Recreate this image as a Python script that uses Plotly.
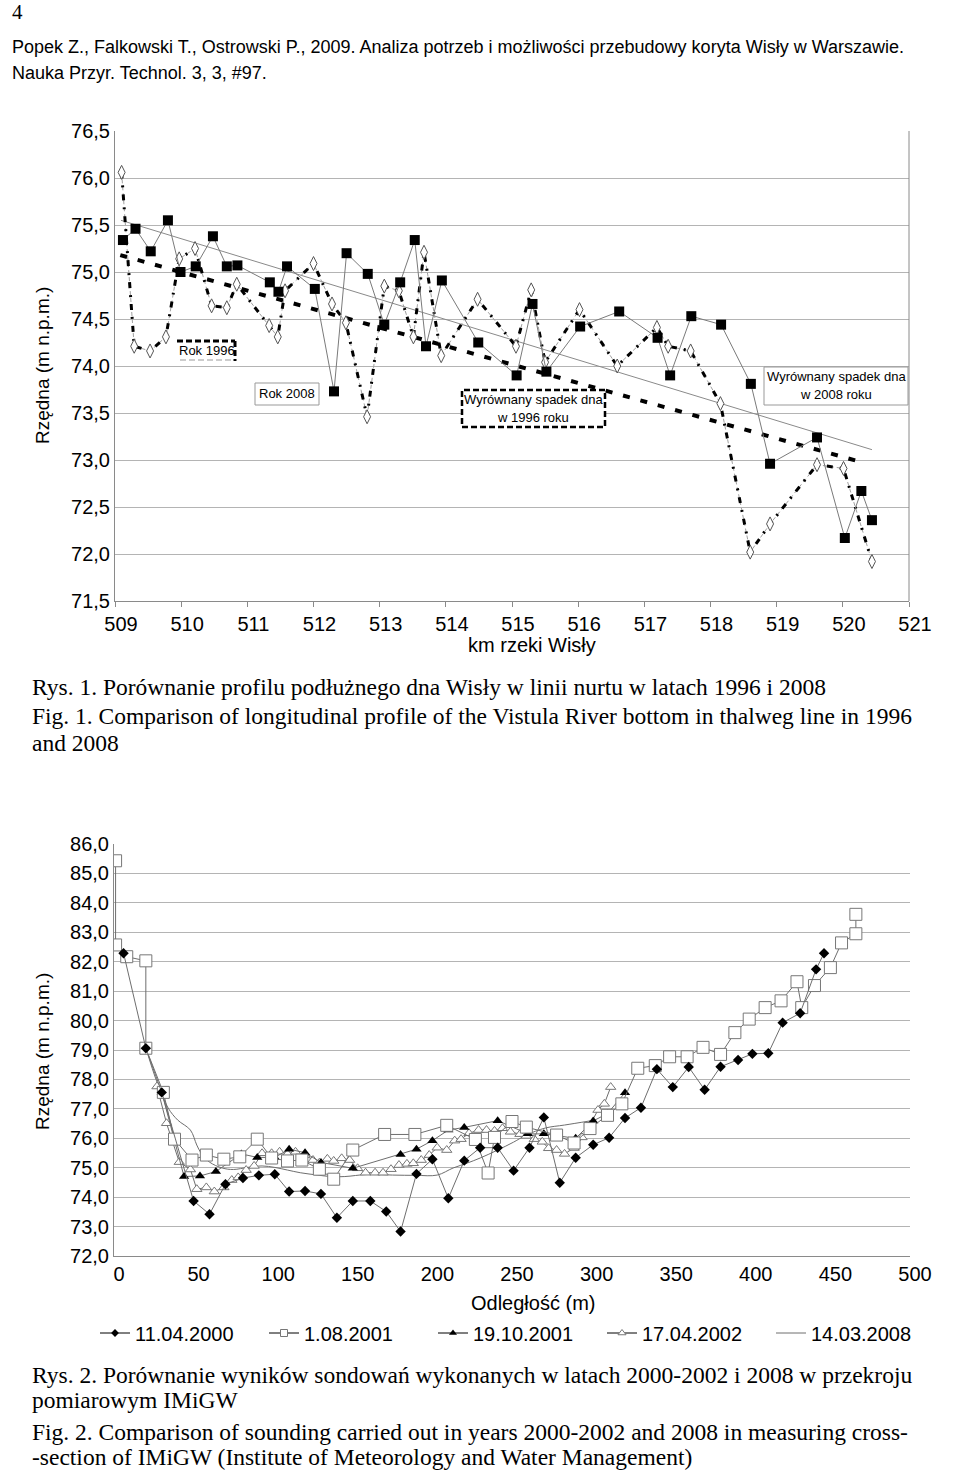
import plotly.graph_objects as go

W, H = 960, 1471
def px(x): return x / W
def py(y): return 1 - y / H

SANS = "Liberation Sans, Arial, sans-serif"
SERIF = "Liberation Serif, Times New Roman, serif"

# ---------------- Top chart data (km of Vistula, bottom elevation) ----------------
km_2008 = [509.12, 509.31, 509.54, 509.80, 509.99, 510.22, 510.48, 510.69, 510.85, 511.34,
           511.47, 511.60, 512.02, 512.31, 512.50, 512.82, 513.07, 513.31, 513.53, 513.70,
           513.94, 514.49, 515.07, 515.31, 515.52, 516.03, 516.62, 517.20, 517.39, 517.71,
           518.16, 518.61, 518.90, 519.61, 520.03, 520.28, 520.44]
z_2008 = [75.34, 75.46, 75.22, 75.55, 75.00, 75.06, 75.38, 75.06, 75.07, 74.89,
          74.79, 75.06, 74.82, 73.73, 75.20, 74.98, 74.44, 74.89, 75.34, 74.21,
          74.91, 74.25, 73.90, 74.66, 73.94, 74.42, 74.58, 74.30, 73.90, 74.53,
          74.44, 73.81, 72.96, 73.24, 72.17, 72.67, 72.36]

km_1996 = [509.10, 509.29, 509.53, 509.77, 509.97, 510.21, 510.46, 510.69, 510.84, 511.33,
           511.46, 511.57, 512.00, 512.28, 512.49, 512.81, 513.07, 513.29, 513.51, 513.67,
           513.93, 514.48, 515.06, 515.29, 515.50, 516.02, 516.59, 517.19, 517.36, 517.70,
           518.15, 518.60, 518.90, 519.61, 520.01, 520.44]
z_1996 = [76.06, 74.21, 74.16, 74.31, 75.14, 75.25, 74.64, 74.62, 74.87, 74.43,
          74.31, 74.80, 75.09, 74.66, 74.46, 73.46, 74.85, 74.80, 74.31, 75.21,
          74.11, 74.71, 74.21, 74.81, 74.04, 74.60, 74.00, 74.41, 74.21, 74.16,
          73.60, 72.02, 72.32, 72.95, 72.91, 71.92]

trend_2008_km = [509.09, 520.44]
trend_2008_z = [75.55, 73.11]
trend_1996_km = [509.08, 520.32]
trend_1996_z = [75.18, 72.97]

top_x_ticks = list(range(509, 522))

# ---------------- Bottom chart data (distance, elevation) ----------------
d_110400 = [6, 20, 30, 50, 60, 70, 81, 91, 101, 110, 120, 130, 140, 150, 161, 171, 180, 190, 200, 210,
            220, 230, 241, 251, 261, 270, 280, 290, 301, 311, 321, 331, 341, 351, 361, 371, 381, 392, 401, 411,
            420, 431, 441, 446]
z_110400 = [82.29, 79.06, 77.56, 73.87, 73.42, 74.44, 74.65, 74.74, 74.78, 74.19,
            74.21, 74.11, 73.30, 73.87, 73.87, 73.51, 72.83, 74.79, 75.29, 73.96,
            75.24, 75.68, 75.68, 74.90, 75.68, 76.71, 74.49, 75.34, 75.78, 76.02,
            76.69, 77.04, 78.35, 77.74, 78.42, 77.65, 78.43, 78.66, 78.87, 78.89,
            79.93, 80.25, 81.74, 82.29]

d_010801 = [1, 1, 8, 20, 20, 31, 38, 49, 58, 69, 79, 90, 99, 109, 118, 129, 138, 150, 170, 189,
            209, 227, 235, 239, 250, 259, 278, 289, 299, 310, 319, 329, 340, 349, 360, 370, 381, 390, 399, 409,
            419, 429, 432, 440, 450, 457, 466, 466]
z_010801 = [85.43, 82.57, 82.17, 82.03, 79.06, 77.56, 75.97, 75.26, 75.43, 75.29,
            75.37, 75.97, 75.33, 75.23, 75.26, 74.95, 74.61, 75.60, 76.13, 76.13,
            76.44, 75.96, 74.82, 76.03, 76.57, 76.38, 76.11, 75.84, 76.33, 76.78,
            77.17, 78.38, 78.47, 78.77, 78.77, 79.09, 78.85, 79.59, 80.05, 80.44,
            80.67, 81.32, 80.44, 81.19, 81.80, 82.64, 82.95, 83.61]

d_191001 = [30, 44, 54, 64, 80, 90, 101, 110, 120, 130, 150, 180, 190, 200, 210, 220, 241, 260, 270, 290,
            301, 310, 321]
z_191001 = [77.56, 74.70, 74.72, 74.87, 75.47, 75.35, 75.35, 75.63, 75.51, 75.18,
            74.98, 75.45, 75.63, 75.92, 76.28, 76.37, 76.60, 76.15, 76.15, 76.00,
            76.59, 76.84, 77.55]

d_170402 = [27, 33, 41, 48, 52, 58, 63, 69, 74, 78, 83, 88, 93, 99, 104, 109, 114, 120, 125, 129,
            134, 138, 143, 148, 153, 158, 164, 169, 174, 179, 184, 188, 193, 198, 203, 209, 214, 218, 223, 229,
            234, 239, 244, 249, 255, 259, 264, 269, 273, 278, 283, 289, 294, 299, 304, 308, 312]
z_170402 = [77.76, 76.51, 75.19, 74.94, 74.27, 74.33, 74.19, 74.33, 74.58, 74.67,
            74.92, 75.06, 75.49, 75.49, 75.54, 75.47, 75.54, 75.43, 75.26, 75.17,
            75.30, 75.23, 75.32, 75.26, 74.98, 74.83, 74.83, 74.83, 74.95, 75.09,
            75.13, 75.15, 75.26, 75.43, 75.68, 75.60, 75.92, 75.97, 76.17, 76.28,
            76.28, 76.25, 76.34, 76.22, 76.14, 76.08, 75.97, 75.88, 75.66, 75.60,
            75.47, 75.67, 76.03, 76.45, 76.96, 77.17, 77.74]

d_140308 = [20, 27, 34, 40, 48, 52, 55, 60, 68, 75, 84, 93, 101, 109, 117, 128, 136, 145, 159, 175,
            190, 203, 213, 222, 230, 241, 251, 259, 271, 283, 299]
z_140308 = [79.07, 77.91, 77.03, 76.62, 76.28, 75.77, 75.47, 75.19, 74.99, 74.94,
            75.01, 75.06, 75.01, 74.92, 74.83, 74.75, 74.70, 74.70, 74.77, 74.75,
            74.74, 74.75, 74.99, 75.16, 75.33, 75.60, 75.87, 76.11, 76.35, 76.45,
            76.59]

legend_names = ["11.04.2000", "1.08.2001", "19.10.2001", "17.04.2002", "14.03.2008"]

LINE_GRAY = "#6e6e6e"
GRID = "#b4b4b4"
AX = "#8a8a8a"

fig = go.Figure()

# ---- top chart traces ----
fig.add_trace(go.Scatter(x=trend_2008_km, y=trend_2008_z, mode="lines",
                         line=dict(color="#8a8a8a", width=1), xaxis="x", yaxis="y", showlegend=False))
fig.add_trace(go.Scatter(x=trend_1996_km, y=trend_1996_z, mode="lines",
                         line=dict(color="black", width=4, dash="7px,11px"),
                         xaxis="x", yaxis="y", showlegend=False))
fig.add_trace(go.Scatter(x=km_1996, y=z_1996, mode="lines",
                         line=dict(color="#a0a0a0", width=1, dash="4px,3px"),
                         xaxis="x", yaxis="y", showlegend=False))
fig.add_trace(go.Scatter(x=km_1996, y=z_1996, mode="lines",
                         line=dict(color="black", width=3, dash="6px,7px,2px,7px"),
                         xaxis="x", yaxis="y", showlegend=False))
fig.add_trace(go.Scatter(x=km_1996, y=z_1996, mode="markers",
                         marker=dict(symbol="diamond-tall", size=10, color="white",
                                     line=dict(color="#555555", width=1)),
                         xaxis="x", yaxis="y", showlegend=False))
fig.add_trace(go.Scatter(x=km_2008, y=z_2008, mode="lines+markers",
                         line=dict(color="#7a7a7a", width=1),
                         marker=dict(symbol="square", size=10, color="black"),
                         xaxis="x", yaxis="y", showlegend=False))

# ---- bottom chart traces ----
fig.add_trace(go.Scatter(x=d_140308, y=z_140308, mode="lines", line_shape="spline",
                         line=dict(color=LINE_GRAY, width=1), xaxis="x2", yaxis="y2", showlegend=False))
fig.add_trace(go.Scatter(x=d_170402, y=z_170402, mode="lines+markers",
                         line=dict(color=LINE_GRAY, width=1),
                         marker=dict(symbol="triangle-up", size=9, color="white",
                                     line=dict(color="#777777", width=1)),
                         xaxis="x2", yaxis="y2", showlegend=False))
fig.add_trace(go.Scatter(x=d_191001, y=z_191001, mode="lines+markers",
                         line=dict(color=LINE_GRAY, width=1),
                         marker=dict(symbol="triangle-up", size=9, color="black"),
                         xaxis="x2", yaxis="y2", showlegend=False))
fig.add_trace(go.Scatter(x=d_010801, y=z_010801, mode="lines+markers",
                         line=dict(color=LINE_GRAY, width=1),
                         marker=dict(symbol="square", size=12, color="white",
                                     line=dict(color="#777777", width=1)),
                         xaxis="x2", yaxis="y2", showlegend=False))
fig.add_trace(go.Scatter(x=d_110400, y=z_110400, mode="lines+markers",
                         line=dict(color=LINE_GRAY, width=1),
                         marker=dict(symbol="diamond", size=8, color="black"),
                         xaxis="x2", yaxis="y2", showlegend=False))

# legend entries (small markers as in the reference legend)
leg_markers = [
    dict(symbol="diamond", size=6, color="black"),
    dict(symbol="square", size=7, color="white", line=dict(color="#777777", width=1)),
    dict(symbol="triangle-up", size=7, color="black"),
    dict(symbol="triangle-up", size=7, color="white", line=dict(color="#777777", width=1)),
    None,
]
for name, mk in zip(legend_names, leg_markers):
    if mk is None:
        fig.add_trace(go.Scatter(x=[None], y=[None], mode="lines", name=name,
                                 line=dict(color=LINE_GRAY, width=1), xaxis="x2", yaxis="y2"))
    else:
        fig.add_trace(go.Scatter(x=[None], y=[None], mode="lines+markers", name=name,
                                 line=dict(color="black", width=1), marker=mk,
                                 xaxis="x2", yaxis="y2"))

# ---------------- layout ----------------
tickfont = dict(family=SANS, size=20, color="black")

fig.update_layout(
    width=W, height=H,
    margin=dict(l=0, r=0, t=0, b=0, autoexpand=False),
    paper_bgcolor="white", plot_bgcolor="white",
    separators=", ",
    xaxis=dict(domain=[px(115), px(909)], range=[509, 521], tickvals=top_x_ticks,
               showgrid=False, zeroline=False, showline=True, linecolor=AX, linewidth=1,
               ticks="outside", ticklen=5, tickcolor=AX, tickfont=tickfont, anchor="y",
               ticklabelshift=6, automargin=False),
    yaxis=dict(domain=[py(601), py(131)], range=[71.5, 76.5], dtick=0.5, tickformat=".1f",
               showgrid=True, gridcolor=GRID, gridwidth=1, zeroline=False,
               showline=True, linecolor=AX, linewidth=1, ticks="", tickfont=tickfont, anchor="x",
               automargin=False),
    xaxis2=dict(domain=[px(114), px(910)], range=[0, 500], dtick=50,
                showgrid=False, zeroline=False, showline=True, linecolor=AX, linewidth=1,
                ticks="", tickfont=tickfont, anchor="y2", ticklabelshift=5, automargin=False),
    yaxis2=dict(domain=[py(1256), py(844)], range=[72, 86], dtick=1, tickformat=".1f",
                showgrid=True, gridcolor=GRID, gridwidth=1, zeroline=False,
                showline=True, linecolor=AX, linewidth=1, ticks="", tickfont=tickfont, anchor="x2",
                automargin=False),
    legend=dict(orientation="h", x=px(95), y=py(1333), xanchor="left", yanchor="middle",
                entrywidth=124, entrywidthmode="pixels", bgcolor="rgba(0,0,0,0)",
                font=dict(family=SANS, size=20, color="black"), tracegroupgap=0),
)

shapes = []
# right border of top plot
shapes.append(dict(type="line", xref="paper", yref="paper", x0=px(909), x1=px(909), y0=py(601), y1=py(131),
                   line=dict(color=AX, width=1)))
# "Rok 1996" box
shapes.append(dict(type="line", xref="paper", yref="paper", x0=px(177), x1=px(235), y0=py(341), y1=py(341),
                   line=dict(color="black", width=3, dash="6px,3px")))
shapes.append(dict(type="line", xref="paper", yref="paper", x0=px(235), x1=px(235), y0=py(341), y1=py(361),
                   line=dict(color="black", width=3, dash="6px,3px")))
shapes.append(dict(type="line", xref="paper", yref="paper", x0=px(180), x1=px(233), y0=py(360), y1=py(360),
                   line=dict(color="#999999", width=1, dash="6px,3px")))
# "Rok 2008" box
shapes.append(dict(type="rect", xref="paper", yref="paper", x0=px(255), x1=px(319), y0=py(405), y1=py(383),
                   line=dict(color="#999999", width=1), fillcolor="white", layer="above"))
# "Wyrównany spadek dna w 1996 roku" box
shapes.append(dict(type="rect", xref="paper", yref="paper", x0=px(462), x1=px(605), y0=py(427), y1=py(390),
                   line=dict(color="black", width=2.5, dash="6px,3px"), fillcolor="white", layer="above"))
# "Wyrównany spadek dna w 2008 roku" box
shapes.append(dict(type="rect", xref="paper", yref="paper", x0=px(764), x1=px(908), y0=py(405), y1=py(367),
                   line=dict(color="#999999", width=1), fillcolor="white", layer="above"))
fig.update_layout(shapes=shapes)

ann = []
def text(x, y, s, size, family=SANS, xanchor="center", angle=0):
    ann.append(dict(x=px(x), y=py(y), xref="paper", yref="paper", text=s, showarrow=False,
                    xanchor=xanchor, yanchor="middle", textangle=angle,
                    font=dict(family=family, size=size, color="black")))

text(10, 12, "4", 21, SERIF, "left")
text(10, 47, "Popek Z., Falkowski T., Ostrowski P., 2009. Analiza potrzeb i możliwości przebudowy koryta Wisły w Warszawie.", 18, SANS, "left")
text(10, 73, "Nauka Przyr. Technol. 3, 3, #97.", 18, SANS, "left")

text(42, 366, "Rzędna (m n.p.m.)", 19, SANS, "center", -90)
text(532, 645, "km rzeki Wisły", 20)
text(207, 350, "Rok 1996", 13)
text(287, 393, "Rok 2008", 13)
text(533, 399, "Wyrównany spadek dna", 13)
text(533, 417, "w 1996 roku", 13)
text(836, 377, "Wyrównany spadek dna", 13)
text(836, 394, "w 2008 roku", 13)

text(30, 687, "Rys. 1. Porównanie profilu podłużnego dna Wisły w linii nurtu w latach 1996 i 2008", 23.5, SERIF, "left")
text(30, 716, "Fig. 1. Comparison of longitudinal profile of the Vistula River bottom in thalweg line in 1996", 23.5, SERIF, "left")
text(30, 743, "and 2008", 23.5, SERIF, "left")

text(42, 1052, "Rzędna (m n.p.m.)", 19, SANS, "center", -90)
text(533, 1303, "Odległość (m)", 20)

text(30, 1375, "Rys. 2. Porównanie wyników sondowań wykonanych w latach 2000-2002 i 2008 w przekroju", 23.5, SERIF, "left")
text(30, 1400, "pomiarowym IMiGW", 23.5, SERIF, "left")
text(30, 1432, "Fig. 2. Comparison of sounding carried out in years 2000-2002 and 2008 in measuring cross-", 23.5, SERIF, "left")
text(30, 1457, "-section of IMiGW (Institute of Meteorology and Water Management)", 23.5, SERIF, "left")

fig.update_layout(annotations=ann)

fig.write_html("out.html", config={"displayModeBar": False},
               post_script="document.body.style.margin='0';document.body.style.overflow='hidden';")
